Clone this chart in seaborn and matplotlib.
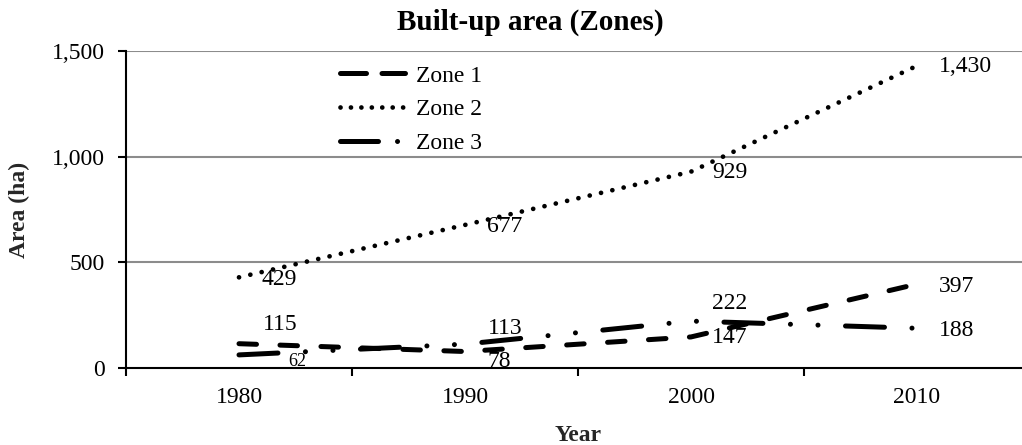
import matplotlib
matplotlib.use("Agg")
import matplotlib.pyplot as plt
import seaborn as sns
import pandas as pd
import numpy as np
from matplotlib.ticker import FuncFormatter, FixedLocator
from matplotlib.lines import Line2D

# ---- data ----
years = ["1980", "1990", "2000", "2010"]
zone1 = [115, 78, 147, 397]
zone2 = [429, 677, 929, 1430]
zone3 = [62, 113, 222, 188]
series_names = ["Zone 1", "Zone 2", "Zone 3"]

sns.set_theme(style="white")
plt.rcParams["font.family"] = ["Liberation Serif", "DejaVu Serif"]
plt.rcParams["text.color"] = "black"

df = pd.DataFrame({
    "pos": list(range(len(years))) * 3,
    "Year": years * 3,
    "value": zone1 + zone2 + zone3,
    "zone": [n for n in series_names for _ in years],
})

fig = plt.figure(figsize=(10.22, 4.45), dpi=100)
ax = fig.add_axes([126 / 1022, 1 - 368 / 445, 904 / 1022, 317 / 445])

dash_map = {
    "Zone 1": (3.5, 4.7),
    "Zone 2": (0.01, 2.45),
    "Zone 3": (7.8, 5.5, 0.01, 5.5, 0.01, 5.5),
}
sns.lineplot(data=df, x="pos", y="value", hue="zone", style="zone",
             palette=["black"] * 3, dashes=dash_map, markers=False,
             ax=ax, legend=False, sort=False)

widths = {"Zone 1": 3.6, "Zone 2": 3.4, "Zone 3": 3.6}
for line, name in zip(ax.lines, series_names):
    line.set_linewidth(widths[name])
    line.set_dash_capstyle("round")
    line.set_solid_capstyle("round")
    line.set_zorder(3)

ax.set_xlim(-0.5, 3.5)
ax.set_ylim(0, 1500)
ax.set_yticks([0, 500, 1000, 1500])
ax.yaxis.set_major_formatter(FuncFormatter(lambda v, p: f"{int(v):,}"))
ax.set_xticks(range(len(years)))
ax.set_xticklabels(years)
ax.xaxis.set_minor_locator(FixedLocator([-0.5, 0.5, 1.5, 2.5, 3.5]))
ax.tick_params(axis="x", which="major", length=0, pad=14, labelsize=17, colors="black")
ax.tick_params(axis="x", which="minor", length=6, width=1.5, direction="out", color="black", bottom=True)
ax.tick_params(axis="y", length=6, width=1.5, direction="out", pad=9, labelsize=17, colors="black", left=True)

ax.grid(False)
for v in [500, 1000, 1500]:
    ax.axhline(v, color="#8c8c8c", lw=1.5, zorder=1)

for s in ["top", "right"]:
    ax.spines[s].set_visible(False)
for s in ["left", "bottom"]:
    ax.spines[s].set_color("black")
    ax.spines[s].set_linewidth(1.5)
ax.spines["bottom"].set_zorder(4)

ax.set_xlabel("Year", fontsize=17, fontweight="bold", labelpad=12)
ax.set_ylabel("Area (ha)", fontsize=17, fontweight="bold", labelpad=16)
fig.text(530 / 1022, 1 - 22 / 445, "Built-up area (Zones)", ha="center", va="center",
         fontsize=21, fontweight="bold")

# data labels (offsets in pixels: dx right, dy down)
label_offsets = {
    "Zone 1": [(24, -19), (23, 10), (21, 1), (22, 2)],
    "Zone 2": [(23, 2), (22, 2), (21, 1), (22, 1)],
    "Zone 3": [(49, 7), (23, -16), (21, -18), (22, 2)],
}
small = {("Zone 3", 0)}
for name, vals in zip(series_names, [zone1, zone2, zone3]):
    for i, v in enumerate(vals):
        dx, dy = label_offsets[name][i]
        ax.annotate(f"{v:,}", (i, v), xytext=(dx / 1.3889, -dy / 1.3889),
                    textcoords="offset points", ha="left", va="center",
                    fontsize=13 if (name, i) in small else 17, zorder=5)

# legend handles with patterns tuned to the short legend sample
leg_dashes = {
    "Zone 1": (5.2, 3.1),
    "Zone 2": (0.01, 2.2),
    "Zone 3": (7.6, 3.8, 0.01, 20),
}
handles = []
for line, name in zip(ax.lines, series_names):
    h = Line2D([0], [0], color="black", lw=widths[name],
               dashes=leg_dashes[name], dash_capstyle="round")
    handles.append(h)

leg = fig.legend(handles=handles, labels=series_names, loc="upper left",
                 bbox_to_anchor=(340 / 1022, 1 - 65 / 445), frameon=False,
                 fontsize=17, handlelength=2.75, handletextpad=0.45,
                 labelspacing=0.52, borderpad=0, borderaxespad=0)

fig.savefig("out.png", dpi=100)
